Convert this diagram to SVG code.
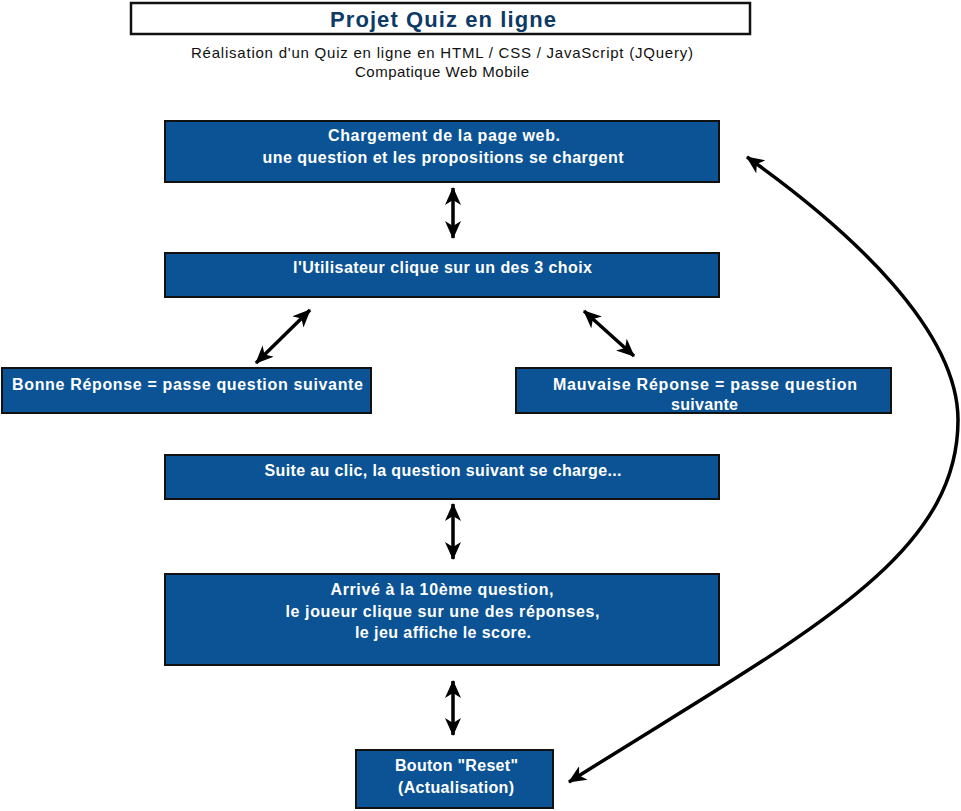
<svg xmlns="http://www.w3.org/2000/svg" width="961" height="811" viewBox="0 0 961 811">
<style>
  .box { fill: #0b5394; stroke: #111; stroke-width: 2; }
  .t { font-family: "Liberation Sans", Arial, sans-serif; font-size: 16px; font-weight: bold; fill: #ffffff; text-anchor: middle; }
  .sub { font-family: "Liberation Sans", Arial, sans-serif; font-size: 15px; fill: #111; text-anchor: middle; }
  .title { font-family: "Liberation Sans", Arial, sans-serif; font-size: 22px; font-weight: bold; fill: #0d3a66; text-anchor: middle; }
  .conn { fill: none; stroke: #000; stroke-width: 3.5; }
</style>
<defs>
  <marker id="ah" viewBox="0 0 18 16" refX="17" refY="8" markerWidth="18" markerHeight="16" markerUnits="userSpaceOnUse" orient="auto-start-reverse">
    <path d="M0,0 L18,8 L0,16 L5,8 Z" fill="#000"/>
  </marker>
</defs>
<rect width="961" height="811" fill="#ffffff"/>

<g id="title">
  <rect x="131" y="3" width="619" height="31" fill="#ffffff" stroke="#111" stroke-width="2.5"/>
  <text class="title" x="443" y="27" textLength="226" lengthAdjust="spacing">Projet Quiz en ligne</text>
</g>
<g id="subtitle">
  <text class="sub" x="442" y="58" textLength="502" lengthAdjust="spacing">Réalisation d'un Quiz en ligne en HTML / CSS / JavaScript (JQuery)</text>
  <text class="sub" x="442" y="77" textLength="174" lengthAdjust="spacing">Compatique Web Mobile</text>
</g>

<g id="node-chargement">
  <rect class="box" x="165" y="121" width="554" height="61"/>
  <text class="t" x="444" y="141" textLength="232" lengthAdjust="spacing">Chargement de la page web.</text>
  <text class="t" x="443" y="163" textLength="361" lengthAdjust="spacing">une question et les propositions se chargent</text>
</g>

<g id="node-utilisateur">
  <rect class="box" x="165" y="253" width="554" height="44"/>
  <text class="t" x="442.5" y="273" textLength="299" lengthAdjust="spacing">l'Utilisateur clique sur un des 3 choix</text>
</g>

<g id="node-bonne">
  <rect class="box" x="2" y="368" width="369" height="45"/>
  <text class="t" x="187.5" y="390" textLength="351" lengthAdjust="spacing">Bonne Réponse = passe question suivante</text>
</g>

<g id="node-mauvaise">
  <rect class="box" x="516" y="368" width="375" height="45"/>
  <text class="t" x="705" y="390" textLength="304" lengthAdjust="spacing">Mauvaise Réponse = passe question</text>
  <text class="t" x="704.5" y="410" textLength="67" lengthAdjust="spacing">suivante</text>
</g>

<g id="node-suite">
  <rect class="box" x="165" y="455" width="554" height="44"/>
  <text class="t" x="443" y="476" textLength="357" lengthAdjust="spacing">Suite au clic, la question suivant se charge...</text>
</g>

<g id="node-arrive">
  <rect class="box" x="165" y="574" width="554" height="91"/>
  <text class="t" x="442" y="595" textLength="223" lengthAdjust="spacing">Arrivé à la 10ème question,</text>
  <text class="t" x="442.5" y="617" textLength="314" lengthAdjust="spacing">le joueur clique sur une des réponses,</text>
  <text class="t" x="443" y="638" textLength="176" lengthAdjust="spacing">le jeu affiche le score.</text>
</g>

<g id="node-reset">
  <rect class="box" x="356" y="750" width="197" height="58"/>
  <text class="t" x="456.5" y="771" textLength="123" lengthAdjust="spacing">Bouton "Reset"</text>
  <text class="t" x="456" y="793" textLength="116" lengthAdjust="spacing">(Actualisation)</text>
</g>

<g id="connectors">
  <line class="conn" x1="453" y1="188" x2="453" y2="238" marker-start="url(#ah)" marker-end="url(#ah)"/>
  <line class="conn" x1="310" y1="310" x2="256" y2="363" marker-start="url(#ah)" marker-end="url(#ah)"/>
  <line class="conn" x1="584" y1="311" x2="634" y2="356" marker-start="url(#ah)" marker-end="url(#ah)"/>
  <line class="conn" x1="453" y1="504" x2="453" y2="559" marker-start="url(#ah)" marker-end="url(#ah)"/>
  <line class="conn" x1="453" y1="681" x2="453" y2="735" marker-start="url(#ah)" marker-end="url(#ah)"/>
  <path class="conn" d="M569,782 C800,636 958,560 958,420 C958,330 850,230 747,157" marker-start="url(#ah)" marker-end="url(#ah)"/>
</g>
</svg>
